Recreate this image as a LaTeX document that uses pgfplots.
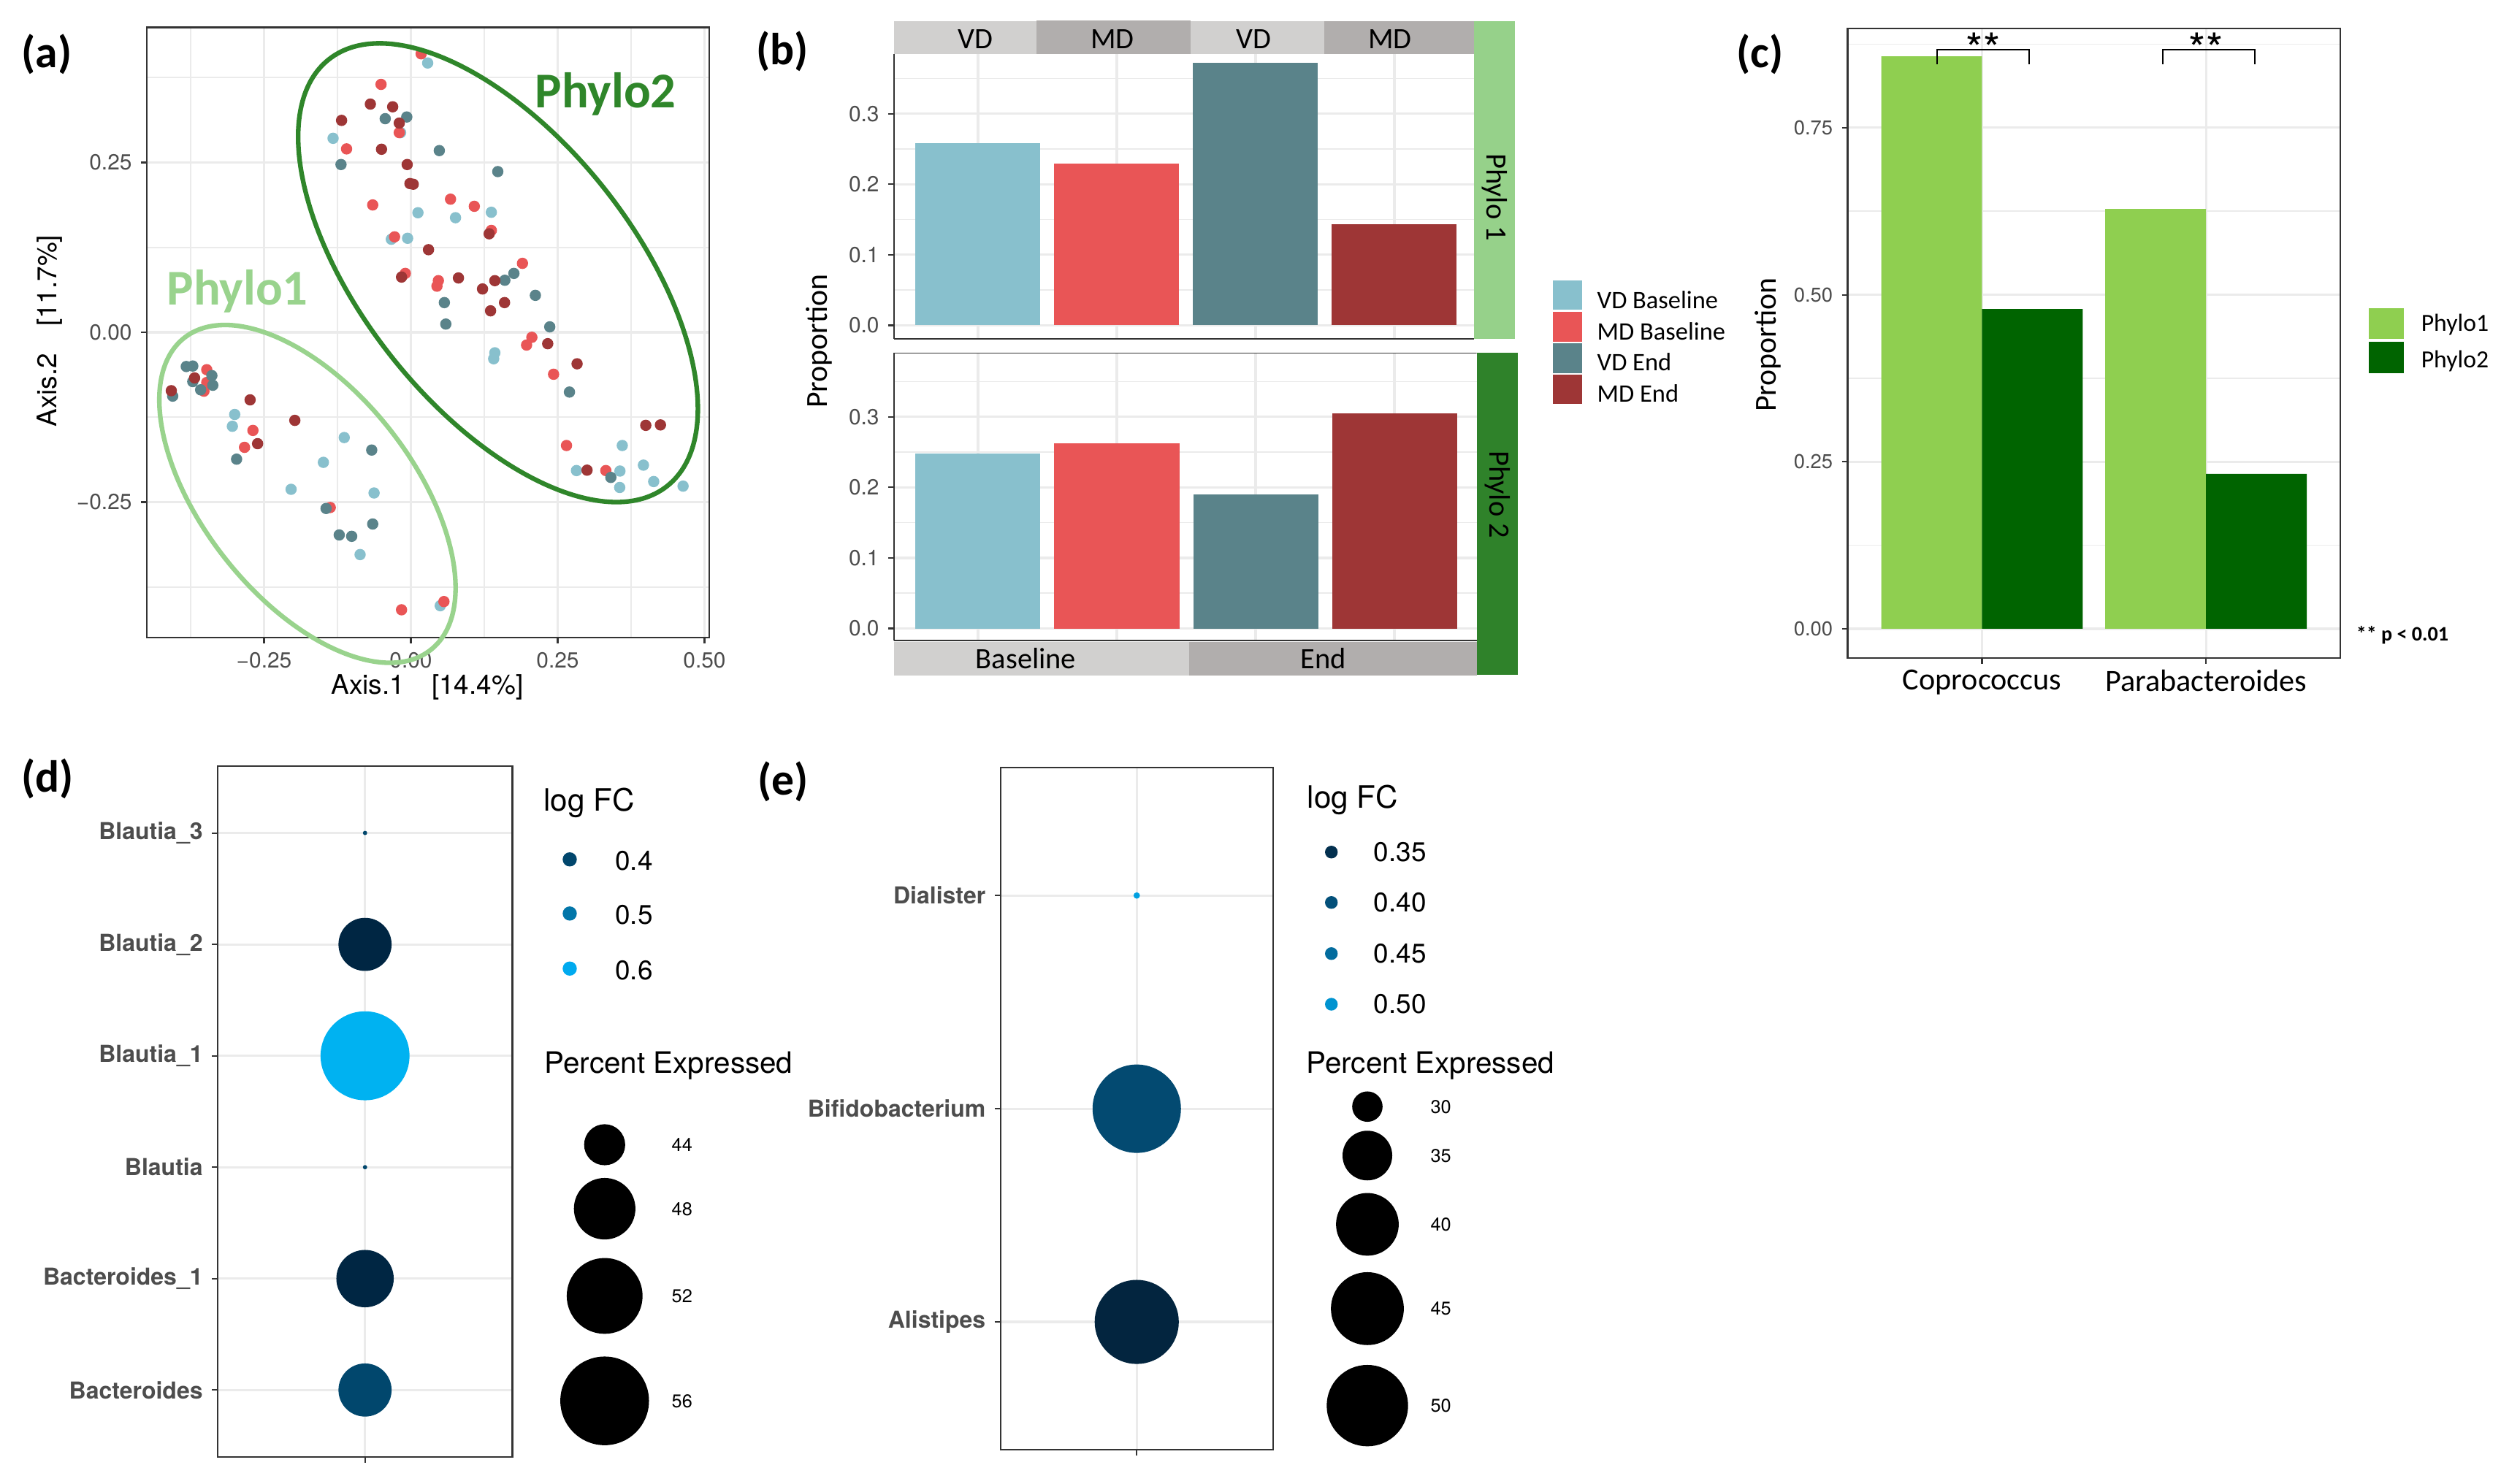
\documentclass[border=0pt]{standalone}
\usepackage{fontspec}
\setmainfont{TeX Gyre Heros}
\newfontfamily\calib{Carlito}
\usepackage{pgfplots}
\pgfplotsset{compat=1.18}
\usepackage{pgfplotstable}

\definecolor{vdb}{HTML}{88C0CD}
\definecolor{mdb}{HTML}{E95556}
\definecolor{vde}{HTML}{5A838A}
\definecolor{mde}{HTML}{9E3636}
\definecolor{ph1}{HTML}{8FCF50}
\definecolor{ph2}{HTML}{006400}
\definecolor{ell1}{HTML}{99D38D}
\definecolor{ell2}{HTML}{2F862A}
\definecolor{str1}{HTML}{96D18A}
\definecolor{str2}{HTML}{2F822A}
\definecolor{stlight}{HTML}{D1D0CF}
\definecolor{stdark}{HTML}{B1AEAD}
\definecolor{gridc}{HTML}{EBEBEB}
\definecolor{framec}{HTML}{333333}
\definecolor{tickc}{HTML}{4D4D4D}
\definecolor{dA}{RGB}{1,71,109}
\definecolor{dB}{RGB}{2,118,169}
\definecolor{dC}{RGB}{0,170,239}
\definecolor{eA}{RGB}{3,48,79}
\definecolor{eB}{RGB}{3,80,122}
\definecolor{eC}{RGB}{3,108,158}
\definecolor{eD}{RGB}{0,147,208}

\newcommand\fs[1]{\fontsize{#1}{#1}\selectfont}

\pgfplotsset{
  gg/.style={scale only axis, anchor=north west,
    axis line style={framec, line width=0.6pt},
    tick style={framec, line width=0.6pt},
    tick align=outside, tick pos=left,
    major tick length=0.08cm, minor tick length=0pt,
    major grid style={gridc, line width=0.9pt},
    minor grid style={gridc, line width=0.45pt},
    tick label style={font=\fs{8.5}, color=tickc},
  },
}

% panel (a): PCoA points, one table per group
\pgfplotstableread{
x y
0.0286 0.3965
-0.0175 0.294
-0.1325 0.2856
0.012 0.176
0.137 0.1767
0.076 0.1687
-0.0333 0.137
-0.0056 0.1384
0.143 -0.0302
0.141 -0.039
0.360 -0.1667
0.282 -0.2036
0.356 -0.2043
0.396 -0.1956
0.4135 -0.2198
0.3556 -0.2285
0.4635 -0.2265
-0.300 -0.121
-0.304 -0.1384
-0.1135 -0.155
-0.149 -0.1915
-0.204 -0.2312
-0.0627 -0.2366
-0.0865 -0.3273
0.050 -0.4026
}\avdb
\pgfplotstableread{
x y
0.0175 0.410
-0.0508 0.365
-0.0198 0.294
-0.1095 0.270
0.0675 0.196
0.108 0.1855
-0.065 0.1875
-0.0278 0.1405
0.137 0.150
0.190 0.1015
-0.0095 0.0867
0.0468 0.076
0.0444 0.0679
0.206 -0.0074
0.197 -0.0188
0.243 -0.0618
0.265 -0.1667
0.332 -0.2036
-0.3476 -0.0551
-0.3476 -0.0739
-0.3524 -0.0867
-0.269 -0.1445
-0.2833 -0.1694
-0.1373 -0.258
-0.0159 -0.4086
0.0563 -0.3965
}\amdb
\pgfplotstableread{
x y
-0.007 0.317
-0.0437 0.3145
0.0484 0.2675
-0.119 0.247
0.148 0.2366
0.1754 0.0867
0.160 0.0766
0.212 0.0544
0.057 0.0437
0.0595 0.0121
0.2365 0.008
0.270 -0.088
0.3405 -0.2137
-0.3825 -0.0504
-0.3714 -0.0497
-0.3714 -0.0726
-0.3389 -0.0638
-0.3373 -0.078
-0.358 -0.0847
-0.4056 -0.094
-0.2968 -0.1868
-0.0667 -0.1734
-0.1444 -0.2594
-0.065 -0.2823
-0.122 -0.2984
-0.1008 -0.3004
}\avde
\pgfplotstableread{
x y
-0.069 0.336
-0.031 0.332
-0.118 0.312
-0.0198 0.308
-0.050 0.2695
-0.0063 0.247
-0.0016 0.219
0.004 0.218
0.1333 0.145
0.030 0.1216
-0.0159 0.0813
0.143 0.076
0.081 0.080
0.122 0.0638
0.1595 0.0437
0.1357 0.0316
0.233 -0.0168
0.283 -0.0464
0.400 -0.137
0.425 -0.1364
0.300 -0.203
-0.3683 -0.0672
-0.408 -0.086
-0.2738 -0.0995
-0.1976 -0.1297
-0.261 -0.164
}\amde

% panels (d) and (e): dot plots
\pgfplotstableread{
x y pct fc
1 1 46.2 0.40
1 2 47.1 0.33
1 3 40.92 0.40
1 4 56.0 0.615
1 5 46.2 0.33
1 6 40.92 0.40
}\dtab
\pgfplotstableread{
x y pct fc
1 1 51.6 0.33
1 2 54.2 0.39
1 3 27.0 0.52
}\etab

\begin{document}
\begin{tikzpicture}
\useasboundingbox (0,0) rectangle (34.24cm,-20.31cm);

% ---------- (a)
\begin{axis}[gg, at={(2.009cm,-0.375cm)}, width=7.698cm, height=8.355cm,
  xmin=-0.4498, xmax=0.5077, ymin=-0.4495, ymax=0.4489,
  xtick={-0.25,0,0.25,0.5}, xticklabels={−0.25,0.00,0.25,0.50},
  ytick={-0.25,0,0.25}, yticklabels={−0.25,0.00,0.25},
  minor xtick={-0.375,-0.125,0.125,0.375},
  minor ytick={-0.375,-0.125,0.125,0.375},
  grid=both]
\addplot[only marks, mark=*, mark size=2pt, vdb] table {\avdb};
\addplot[only marks, mark=*, mark size=2pt, mdb] table {\amdb};
\addplot[only marks, mark=*, mark size=2pt, vde] table {\avde};
\addplot[only marks, mark=*, mark size=2pt, mde] table {\amde};
\end{axis}
\draw[ell2, line width=1.8pt, rotate around={-51.57:(6.818,-3.734)}]
  (6.818,-3.734) ellipse [x radius=3.728, y radius=1.857];
\draw[ell1, line width=1.8pt, rotate around={-51.66:(4.209,-6.7625)}]
  (4.209,-6.7625) ellipse [x radius=2.722, y radius=1.432];

% ---------- (b) upper facet
\begin{axis}[gg, at={(12.24cm,-0.737cm)}, width=7.936cm, height=3.903cm,
  xmin=0.395, xmax=4.572, ymin=-0.0192, ymax=0.3849,
  axis x line*=bottom, axis y line*=left, axis line style={-},
  xtick={1,2,3,4}, xticklabels={}, xtick style={draw=none},
  ytick={0,0.1,0.2,0.3}, yticklabels={0.0,0.1,0.2,0.3},
  minor ytick={0.05,0.15,0.25,0.35}, grid=both,
  ybar, bar width=0.9, bar shift=0pt]
\addplot[fill=vdb, draw=none] coordinates {(1,0.2579)};
\addplot[fill=mdb, draw=none] coordinates {(2,0.229)};
\addplot[fill=vde, draw=none] coordinates {(3,0.3721)};
\addplot[fill=mde, draw=none] coordinates {(4,0.143)};
\end{axis}
% ---------- (b) lower facet
\begin{axis}[gg, at={(12.24cm,-4.83cm)}, width=7.977cm, height=3.943cm,
  xmin=0.395, xmax=4.593, ymin=-0.0174, ymax=0.3908,
  axis x line*=bottom, axis y line*=left, axis line style={-},
  xtick={1,2,3,4}, xticklabels={}, xtick style={draw=none},
  ytick={0,0.1,0.2,0.3}, yticklabels={0.0,0.1,0.2,0.3},
  minor ytick={0.05,0.15,0.25,0.35}, grid=both,
  ybar, bar width=0.9, bar shift=0pt]
\addplot[fill=vdb, draw=none] coordinates {(1,0.2477)};
\addplot[fill=mdb, draw=none] coordinates {(2,0.2621)};
\addplot[fill=vde, draw=none] coordinates {(3,0.190)};
\addplot[fill=mde, draw=none] coordinates {(4,0.3054)};
\draw[framec, line width=0.6pt] (rel axis cs:0,1) -- (rel axis cs:1,1);
\end{axis}

% ---------- (c)
\begin{axis}[gg, at={(25.295cm,-0.3875cm)}, width=6.745cm, height=8.6185cm,
  xmin=0.4, xmax=2.6, ymin=-0.0433, ymax=0.8988,
  xtick={1,2}, xticklabels={Coprococcus,Parabacteroides},
  xticklabel style={font=\calib\fs{12}, color=black, yshift=0.04cm},
  yticklabel style={font=\fs{7.8}},
  ytick={0,0.25,0.5,0.75}, yticklabels={0.00,0.25,0.50,0.75},
  minor ytick={0.125,0.375,0.625,0.875}, grid=both,
  ybar, bar width=0.45]
\addplot[fill=ph1, draw=none, bar shift=-0.225] coordinates {(1,0.857) (2,0.6284)};
\addplot[fill=ph2, draw=none, bar shift=0.225] coordinates {(1,0.4787) (2,0.232)};
\draw[black, line width=0.6pt] (axis cs:0.8,0.845) -- (axis cs:0.8,0.867)
  -- (axis cs:1.21,0.867) -- (axis cs:1.21,0.845);
\draw[black, line width=0.6pt] (axis cs:1.806,0.845) -- (axis cs:1.806,0.867)
  -- (axis cs:2.219,0.867) -- (axis cs:2.219,0.845);
\end{axis}

% ---------- (d)
\begin{axis}[gg, at={(2.98cm,-10.49cm)}, width=4.035cm, height=9.458cm,
  xmin=0.4, xmax=1.6, ymin=0.4, ymax=6.6,
  xtick={1}, xticklabels={}, ytick={1,2,3,4,5,6},
  yticklabels={Bacteroides,Bacteroides\_1,Blautia,Blautia\_1,Blautia\_2,Blautia\_3},
  yticklabel style={font=\bfseries\fs{9.1}},
  grid=major,
  colormap={dmap}{rgb255=(0,24,49) rgb255=(1,71,109) rgb255=(2,118,169) rgb255=(0,170,239) rgb255=(0,222,255)},
  point meta min=0.3, point meta max=0.7]
\addplot[scatter, only marks, mark=*, point meta=\thisrow{fc},
  scatter/use mapped color={draw=mapped color, fill=mapped color},
  visualization depends on={sqrt(240*(\thisrow{pct}-40.9))*0.2845 \as \rad},
  scatter/@pre marker code/.append style={/tikz/mark size=\rad pt}]
  table[x=x, y=y] {\dtab};
\end{axis}

% ---------- (e)
\begin{axis}[gg, at={(13.696cm,-10.51cm)}, width=3.733cm, height=9.342cm,
  xmin=0.4, xmax=1.6, ymin=0.4, ymax=3.6,
  xtick={1}, xticklabels={}, ytick={1,2,3},
  yticklabels={Alistipes,Bifidobacterium,Dialister},
  yticklabel style={font=\bfseries\fs{9.1}},
  grid=major,
  colormap={emap}{rgb255=(3,20,40) rgb255=(3,48,79) rgb255=(3,80,122) rgb255=(3,108,158) rgb255=(0,147,208) rgb255=(0,180,250)},
  point meta min=0.30, point meta max=0.55]
\addplot[scatter, only marks, mark=*, point meta=\thisrow{fc},
  scatter/use mapped color={draw=mapped color, fill=mapped color},
  visualization depends on={sqrt(131*(\thisrow{pct}-26.9))*0.2845 \as \rad},
  scatter/@pre marker code/.append style={/tikz/mark size=\rad pt}]
  table[x=x, y=y] {\etab};
\end{axis}

% ---------- overlay in pixel units: legends, strips, labels
\begin{axis}[at={(0cm,0cm)}, anchor=north west, scale only axis,
  width=34.24cm, height=20.31cm, xmin=0, xmax=3424, ymin=0, ymax=2031,
  y dir=reverse, hide axis, clip=false]
% legend keys (b)
\addplot[fill=vdb, draw=none] coordinates {(2126,384) (2166,384) (2166,424) (2126,424)} -- cycle;
\addplot[fill=mdb, draw=none] coordinates {(2126,427) (2166,427) (2166,468) (2126,468)} -- cycle;
\addplot[fill=vde, draw=none] coordinates {(2126,470) (2166,470) (2166,511) (2126,511)} -- cycle;
\addplot[fill=mde, draw=none] coordinates {(2126,513) (2166,513) (2166,553) (2126,553)} -- cycle;
% legend keys (c)
\addplot[fill=ph1, draw=none] coordinates {(3243,422) (3291,422) (3291,464) (3243,464)} -- cycle;
\addplot[fill=ph2, draw=none] coordinates {(3243,468) (3291,468) (3291,511) (3243,511)} -- cycle;
% legend keys (d)
\addplot[only marks, mark=*, dA, mark size=0.09cm] coordinates {(780,1176.7)};
\addplot[only marks, mark=*, dB, mark size=0.09cm] coordinates {(780,1250.8)};
\addplot[only marks, mark=*, dC, mark size=0.09cm] coordinates {(780,1326.2)};
\addplot[only marks, mark=*, black, mark size=0.274cm] coordinates {(827.8,1567.4)};
\addplot[only marks, mark=*, black, mark size=0.414cm] coordinates {(827.8,1655)};
\addplot[only marks, mark=*, black, mark size=0.512cm] coordinates {(827.8,1774.4)};
\addplot[only marks, mark=*, black, mark size=0.600cm] coordinates {(827.8,1918.1)};
% legend keys (e)
\addplot[only marks, mark=*, eA, mark size=0.08cm] coordinates {(1822.7,1166.7)};
\addplot[only marks, mark=*, eB, mark size=0.08cm] coordinates {(1822.7,1235.7)};
\addplot[only marks, mark=*, eC, mark size=0.08cm] coordinates {(1822.7,1305.7)};
\addplot[only marks, mark=*, eD, mark size=0.08cm] coordinates {(1822.7,1375)};
\addplot[only marks, mark=*, black, mark size=0.201cm] coordinates {(1872,1515.2)};
\addplot[only marks, mark=*, black, mark size=0.333cm] coordinates {(1872,1582.2)};
\addplot[only marks, mark=*, black, mark size=0.422cm] coordinates {(1872,1676.4)};
\addplot[only marks, mark=*, black, mark size=0.492cm] coordinates {(1872,1791.8)};
\addplot[only marks, mark=*, black, mark size=0.550cm] coordinates {(1872,1924.6)};

% strips (b)
\fill[stlight] (1224,29) rectangle (1419,73.7);
\fill[stdark] (1419,28) rectangle (1630,73.7);
\fill[stlight] (1630,29) rectangle (1813,73.7);
\fill[stdark] (1813,29) rectangle (2017.6,73.7);
\fill[str1] (2017.6,29) rectangle (2073.6,464);
\fill[str2] (2021.7,483) rectangle (2077.6,924);
\fill[stlight] (1224,879) rectangle (1628,925);
\fill[stdark] (1628,879) rectangle (2021.7,925);

\begin{scope}[every node/.style={inner sep=0pt}]
% panel letters
\node[anchor=base west, font=\calib\bfseries\fs{17.5}] at (29,92) {(a)};
\node[anchor=base west, font=\calib\bfseries\fs{17.5}] at (1035,88) {(b)};
\node[anchor=base west, font=\calib\bfseries\fs{17.5}] at (2377,92) {(c)};
\node[anchor=base west, font=\calib\bfseries\fs{17.5}] at (29,1084) {(d)};
\node[anchor=base west, font=\calib\bfseries\fs{17.5}] at (1037,1088) {(e)};
% (a)
\node[anchor=base west, font=\calib\bfseries\fs{19.5}, text=ell2] at (732,147) {Phylo2};
\node[anchor=base west, font=\calib\bfseries\fs{19.5}, text=ell1] at (228,417.5) {Phylo1};
\node[anchor=base, font=\fs{10.5}] at (585,950) {Axis.1\quad[14.4\%]};
\node[anchor=base, rotate=90, font=\fs{10.5}] at (77,453) {Axis.2\quad[11.7\%]};
% (b)
\node[anchor=base, rotate=90, font=\calib\fs{11.9}] at (1132,467) {Proportion};
\node[anchor=base, font=\calib\fs{11.5}] at (1335.7,66.7) {VD};
\node[anchor=base, font=\calib\fs{11.5}] at (1523,66.7) {MD};
\node[anchor=base, font=\calib\fs{11.5}] at (1716,66.7) {VD};
\node[anchor=base, font=\calib\fs{11.5}] at (1902.7,66.7) {MD};
\node[anchor=base, rotate=-90, font=\calib\fs{11.5}] at (2035,270) {Phylo 1};
\node[anchor=base, rotate=-90, font=\calib\fs{11.5}] at (2039,677) {Phylo 2};
\node[anchor=base, font=\calib\fs{11.5}] at (1404.5,915) {Baseline};
\node[anchor=base, font=\calib\fs{11.5}] at (1811.9,915) {End};
\node[anchor=base west, font=\calib\fs{9.8}] at (2186,422) {VD Baseline};
\node[anchor=base west, font=\calib\fs{9.8}] at (2186,465) {MD Baseline};
\node[anchor=base west, font=\calib\fs{9.8}] at (2186,507) {VD End};
\node[anchor=base west, font=\calib\fs{9.8}] at (2186,550) {MD End};
% (c)
\node[anchor=base, rotate=90, font=\calib\fs{11.9}] at (2431,472) {Proportion};
\node[anchor=base, font=\fs{17}] at (2715,88) {**};
\node[anchor=base, font=\fs{17}] at (3020,88) {**};
\node[anchor=base west, font=\calib\bfseries\fs{8}] at (3225,877) {** p < 0.01};
\node[anchor=base west, font=\calib\fs{9.6}] at (3314,453) {Phylo1};
\node[anchor=base west, font=\calib\fs{9.6}] at (3314,503) {Phylo2};
% (d)
\node[anchor=base west, font=\fs{12}] at (743.6,1110) {log FC};
\node[anchor=base west, font=\fs{10.5}] at (841.7,1191.7) {0.4};
\node[anchor=base west, font=\fs{10.5}] at (841.7,1265.8) {0.5};
\node[anchor=base west, font=\fs{10.5}] at (841.7,1341.2) {0.6};
\node[anchor=base west, font=\fs{11.5}] at (745,1469) {Percent Expressed};
\node[anchor=base west, font=\fs{7.2}] at (919,1576.4) {44};
\node[anchor=base west, font=\fs{7.2}] at (919,1664) {48};
\node[anchor=base west, font=\fs{7.2}] at (919,1783.4) {52};
\node[anchor=base west, font=\fs{7.2}] at (919,1927.1) {56};
% (e)
\node[anchor=base west, font=\fs{12}] at (1789,1106) {log FC};
\node[anchor=base west, font=\fs{10.5}] at (1880,1179.3) {0.35};
\node[anchor=base west, font=\fs{10.5}] at (1880,1248.5) {0.40};
\node[anchor=base west, font=\fs{10.5}] at (1880,1318.3) {0.45};
\node[anchor=base west, font=\fs{10.5}] at (1880,1387.6) {0.50};
\node[anchor=base west, font=\fs{11.5}] at (1787.6,1469) {Percent Expressed};
\node[anchor=base west, font=\fs{7.2}] at (1957.8,1524.2) {30};
\node[anchor=base west, font=\fs{7.2}] at (1957.8,1591.2) {35};
\node[anchor=base west, font=\fs{7.2}] at (1957.8,1685.4) {40};
\node[anchor=base west, font=\fs{7.2}] at (1957.8,1800.8) {45};
\node[anchor=base west, font=\fs{7.2}] at (1957.8,1933.6) {50};
\end{scope}
\end{axis}
\end{tikzpicture}
\end{document}
